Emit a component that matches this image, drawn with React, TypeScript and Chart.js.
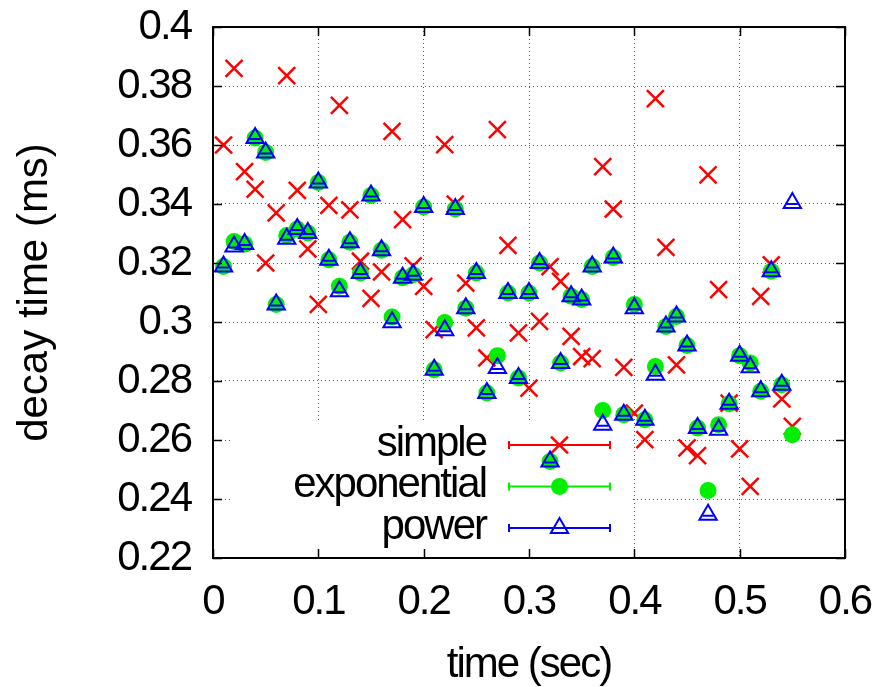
import React, { useEffect, useRef } from 'react';
import { Chart, registerables } from 'chart.js';
import { drawPoint } from 'chart.js/helpers';

Chart.register(...registerables);

const FONT = "'Liberation Sans', Arial, sans-serif";
const FONT_SIZE = 42;
const LETTER_SPACING = '-2px';

const TIMES = [
  0.01, 0.02, 0.03, 0.04, 0.05, 0.06, 0.07, 0.08, 0.09, 0.1,
  0.11, 0.12, 0.13, 0.14, 0.15, 0.16, 0.17, 0.18, 0.19, 0.2,
  0.21, 0.22, 0.23, 0.24, 0.25, 0.26, 0.27, 0.28, 0.29, 0.3,
  0.31, 0.32, 0.33, 0.34, 0.35, 0.36, 0.37, 0.38, 0.39, 0.4,
  0.41, 0.42, 0.43, 0.44, 0.45, 0.46, 0.47, 0.48, 0.49, 0.5,
  0.51, 0.52, 0.53, 0.54, 0.55,
];

const SIMPLE = [
  0.360, 0.386, 0.351, 0.345, 0.320, 0.337, 0.3835, 0.3446, 0.3248, 0.306,
  0.3395, 0.3734, 0.338, 0.3206, 0.308, 0.317, 0.3646, 0.3347, 0.319, 0.3121,
  0.2974, 0.3601, 0.340, 0.3132, 0.298, 0.2878, 0.3652, 0.326, 0.2963, 0.2776,
  0.3002, 0.3188, 0.3138, 0.2951, 0.2883, 0.2876, 0.3527, 0.3383, 0.2846, 0.2691,
  0.2601, 0.3757, 0.3253, 0.2855, 0.2573, 0.2547, 0.3499, 0.311, 0.2725, 0.257,
  0.2443, 0.3087, 0.3194, 0.2739, 0.2646,
];

const EXPONENTIAL = [
  0.3188, 0.3273, 0.3264, 0.3624, 0.3575, 0.3059, 0.3293, 0.3315, 0.3302, 0.3473,
  0.3211, 0.3121, 0.327, 0.3166, 0.3429, 0.3243, 0.3017, 0.315, 0.316, 0.339,
  0.2838, 0.2998, 0.3383, 0.3047, 0.3166, 0.2759, 0.2886, 0.3098, 0.281, 0.3098,
  0.32, 0.2527, 0.2861, 0.3087, 0.3076, 0.3188, 0.27, 0.3219, 0.2686, 0.3059,
  0.2669, 0.2849, 0.2985, 0.3019, 0.292, 0.2641, 0.2429, 0.2652, 0.2723, 0.2886,
  0.2861, 0.2765, 0.3172, 0.2787, 0.2618,
];

const POWER = [
  0.3188, 0.3256, 0.3264, 0.3624, 0.3575, 0.3059, 0.3282, 0.3315, 0.3302, 0.3473,
  0.3211, 0.3104, 0.327, 0.3166, 0.3429, 0.3243, 0.2999, 0.315, 0.316, 0.339,
  0.2838, 0.2972, 0.3383, 0.3047, 0.3166, 0.2759, 0.2844, 0.3098, 0.281, 0.3098,
  0.32, 0.2527, 0.2861, 0.3087, 0.3076, 0.3188, 0.2652, 0.3219, 0.2686, 0.3047,
  0.2669, 0.2821, 0.2985, 0.3019, 0.292, 0.2641, 0.2347, 0.2635, 0.2723, 0.2886,
  0.2847, 0.2765, 0.3172, 0.2787, 0.3403,
];

const SERIES_NAMES = ['simple', 'exponential', 'power'];
const X_TICKS = [0, 0.1, 0.2, 0.3, 0.4, 0.5, 0.6];
const Y_TICKS = [0.22, 0.24, 0.26, 0.28, 0.3, 0.32, 0.34, 0.36, 0.38, 0.4];
const X_TITLE = 'time (sec)';
const Y_TITLE = 'decay time (ms)';

const RED = '#ff0000';
const GREEN = '#00ee00';
const BLUE = '#0000ff';

const makePoints = (ys: number[]) => TIMES.map((t, i) => ({ x: t, y: ys[i] }));

const setSpacing = (chart: any) => {
  if (chart.ctx) (chart.ctx as any).letterSpacing = LETTER_SPACING;
};

const framePlugin = {
  id: 'gnuplotFrame',
  beforeUpdate(chart: any) {
    setSpacing(chart);
  },
  beforeLayout(chart: any) {
    setSpacing(chart);
  },
  beforeDraw(chart: any) {
    setSpacing(chart);
  },
  beforeDatasetsDraw(chart: any) {
    const { ctx, chartArea: a } = chart;
    // opaque key box
    const boxLeft = a.left + 20;
    const boxRight = a.left + 420;
    const boxTop = a.bottom - 135;
    ctx.save();
    ctx.fillStyle = '#ffffff';
    ctx.fillRect(boxLeft, boxTop, boxRight - boxLeft, a.bottom - boxTop);

    const textRight = a.left + 273;
    const sx0 = a.left + 296;
    const sx1 = a.left + 397;
    const rows = [a.bottom - 113, a.bottom - 71.5, a.bottom - 30];
    ctx.font = `${FONT_SIZE}px ${FONT}`;
    ctx.textAlign = 'right';
    ctx.textBaseline = 'middle';
    chart.data.datasets.forEach((ds: any, i: number) => {
      const y = rows[i];
      ctx.fillStyle = '#000';
      ctx.fillText(ds.label, textRight, y - 1);
      ctx.strokeStyle = ds.borderColor;
      ctx.lineWidth = 2;
      ctx.beginPath();
      ctx.moveTo(sx0, y);
      ctx.lineTo(sx1, y);
      ctx.moveTo(sx0, y - 4);
      ctx.lineTo(sx0, y + 4);
      ctx.moveTo(sx1, y - 4);
      ctx.lineTo(sx1, y + 4);
      ctx.stroke();
      ctx.fillStyle = ds.backgroundColor;
      ctx.strokeStyle = ds.borderColor;
      ctx.lineWidth = ds.pointBorderWidth;
      drawPoint(
        ctx,
        { pointStyle: ds.pointStyle, radius: ds.pointRadius, borderWidth: ds.pointBorderWidth, rotation: 0 },
        (sx0 + sx1) / 2,
        y
      );
    });
    ctx.restore();
  },
  afterDatasetDraw(chart: any, args: any) {
    if (args.index !== 2) return;
    const { ctx } = chart;
    ctx.save();
    ctx.strokeStyle = BLUE;
    ctx.lineWidth = 2;
    ctx.beginPath();
    args.meta.data.forEach((pt: any) => {
      ctx.moveTo(pt.x - 5.5, pt.y + 1);
      ctx.lineTo(pt.x + 5.5, pt.y + 1);
    });
    ctx.stroke();
    ctx.restore();
  },
  afterDraw(chart: any) {
    const { ctx, chartArea: a } = chart;
    const sx = chart.scales.x;
    const sy = chart.scales.y;
    ctx.save();
    ctx.strokeStyle = '#000';
    ctx.lineWidth = 1.5;
    ctx.beginPath();
    X_TICKS.forEach((v) => {
      const px = Math.round(sx.getPixelForValue(v)) + 0.5;
      ctx.moveTo(px, a.bottom);
      ctx.lineTo(px, a.bottom - 9);
      ctx.moveTo(px, a.top);
      ctx.lineTo(px, a.top + 9);
    });
    Y_TICKS.forEach((v) => {
      const py = Math.round(sy.getPixelForValue(v)) + 0.5;
      ctx.moveTo(a.left, py);
      ctx.lineTo(a.left + 9, py);
      ctx.moveTo(a.right, py);
      ctx.lineTo(a.right - 9, py);
    });
    ctx.stroke();
    ctx.lineWidth = 2;
    ctx.strokeRect(a.left, a.top, a.right - a.left, a.bottom - a.top);
    ctx.restore();
  },
};

export default function App() {
  const ref = useRef<HTMLCanvasElement>(null);

  useEffect(() => {
    const canvas = ref.current;
    if (!canvas) return;
    const tickFont = { family: FONT, size: FONT_SIZE, lineHeight: 1.2 };
    const titleFont = { family: FONT, size: FONT_SIZE, lineHeight: 1 };
    const chart = new Chart(canvas, {
      type: 'scatter',
      data: {
        datasets: [
          {
            label: SERIES_NAMES[0],
            data: makePoints(SIMPLE),
            pointStyle: 'crossRot',
            pointRadius: 12,
            pointBorderWidth: 2.5,
            borderColor: RED,
            backgroundColor: RED,
            order: 3,
            clip: false,
          } as any,
          {
            label: SERIES_NAMES[1],
            data: makePoints(EXPONENTIAL),
            pointStyle: 'circle',
            pointRadius: 8.5,
            pointBorderWidth: 0,
            borderColor: GREEN,
            backgroundColor: GREEN,
            order: 2,
            clip: false,
          } as any,
          {
            label: SERIES_NAMES[2],
            data: makePoints(POWER),
            pointStyle: 'triangle',
            pointRadius: 10,
            pointBorderWidth: 2,
            borderColor: BLUE,
            backgroundColor: 'rgba(0,0,0,0)',
            order: 1,
            clip: false,
          } as any,
        ],
      },
      options: {
        responsive: false,
        animation: false,
        devicePixelRatio: 1,
        events: [],
        layout: { padding: { top: 27, right: 39, left: 0, bottom: 0 } },
        plugins: { legend: { display: false }, tooltip: { enabled: false } },
        scales: {
          x: {
            type: 'linear',
            min: 0,
            max: 0.6,
            afterBuildTicks: (s: any) => {
              s.ticks = X_TICKS.map((v) => ({ value: v }));
            },
            afterFit: (s: any) => {
              s.height = 129;
              s.paddingLeft = 0;
              s.paddingRight = 0;
              s.paddingTop = 0;
              s.paddingBottom = 0;
            },
            ticks: {
              font: tickFont,
              color: '#000',
              padding: 19,
              maxRotation: 0,
              autoSkip: false,
              callback: (v: any) => String(v),
            },
            grid: { color: 'rgba(70,70,70,0.9)', lineWidth: 1, drawTicks: false },
            border: { display: false, dash: [1, 3] },
            title: {
              display: true,
              text: X_TITLE,
              color: '#000',
              font: titleFont,
              padding: { top: 0, bottom: 1 },
            },
          },
          y: {
            type: 'linear',
            min: 0.22,
            max: 0.4,
            afterBuildTicks: (s: any) => {
              s.ticks = Y_TICKS.map((v) => ({ value: v }));
            },
            afterFit: (s: any) => {
              s.width = 213;
              s.paddingLeft = 0;
              s.paddingRight = 0;
              s.paddingTop = 0;
              s.paddingBottom = 0;
              if (!s.__titlePatched) {
                const orig = s.drawTitle;
                s.drawTitle = function (this: any) {
                  const c = this.ctx;
                  const prev = c.letterSpacing;
                  c.letterSpacing = '0px';
                  orig.call(this);
                  c.letterSpacing = prev;
                };
                s.__titlePatched = true;
              }
            },
            ticks: {
              font: tickFont,
              color: '#000',
              padding: 22,
              autoSkip: false,
              callback: (v: any) => String(v),
            },
            grid: { color: 'rgba(70,70,70,0.9)', lineWidth: 1, drawTicks: false },
            border: { display: false, dash: [1, 3] },
            title: {
              display: true,
              text: Y_TITLE,
              color: '#000',
              font: titleFont,
              padding: { top: 14.5, bottom: 0 },
            },
          },
        },
      } as any,
      plugins: [framePlugin],
    });
    return () => chart.destroy();
  }, []);

  return (
    <div style={{ position: 'absolute', left: 0, top: 0, width: 884, height: 687, background: '#fff' }}>
      <canvas ref={ref} width={884} height={687} style={{ display: 'block', width: 884, height: 687 }} />
    </div>
  );
}
